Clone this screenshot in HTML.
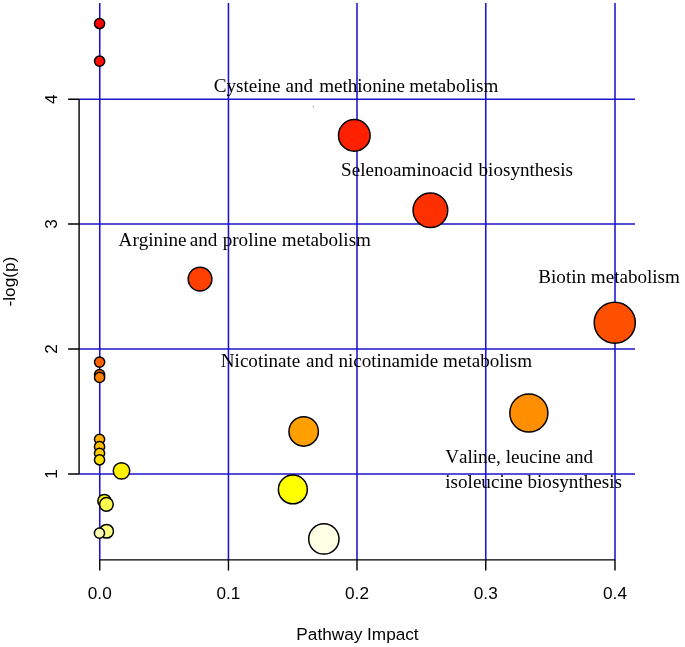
<!DOCTYPE html><html><head><meta charset="utf-8"><style>html,body{margin:0;padding:0;background:#fff;}svg{display:block;will-change:transform;}text{font-kerning:none;font-feature-settings:"kern" 0,"liga" 0;}</style></head><body>
<svg width="685" height="647" viewBox="0 0 685 647">
<rect width="685" height="647" fill="#fff"/>
<path d="M99.75 3V560 M228.45 3V560 M357.00 3V560 M485.75 3V560 M615.00 3V560 M79.1 99.20H635 M79.1 224.00H635 M79.1 349.00H635 M79.1 474.00H635" stroke="#1C14CC" stroke-width="1.55" fill="none"/>
<circle cx="99.55" cy="23.55" r="5.09" fill="#FF0000" stroke="#000" stroke-width="1.5"/>
<circle cx="99.6" cy="61.2" r="5.09" fill="#FF1000" stroke="#000" stroke-width="1.5"/>
<circle cx="354.3" cy="135.4" r="15.83" fill="#FF2000" stroke="#000" stroke-width="1.5"/>
<circle cx="430.4" cy="210.25" r="17.33" fill="#FF3000" stroke="#000" stroke-width="1.5"/>
<circle cx="200.05" cy="279.1" r="11.84" fill="#FF4000" stroke="#000" stroke-width="1.5"/>
<circle cx="614.75" cy="322.8" r="20.55" fill="#FF5000" stroke="#000" stroke-width="1.5"/>
<circle cx="99.6" cy="362.1" r="5.09" fill="#FF6000" stroke="#000" stroke-width="1.5"/>
<circle cx="99.6" cy="374.55" r="5.09" fill="#FF7000" stroke="#000" stroke-width="1.5"/>
<circle cx="99.6" cy="377.4" r="5.09" fill="#FF8000" stroke="#000" stroke-width="1.5"/>
<circle cx="528.86" cy="413.0" r="19.04" fill="#FF8F00" stroke="#000" stroke-width="1.5"/>
<circle cx="303.67" cy="431.43" r="14.71" fill="#FF9F00" stroke="#000" stroke-width="1.5"/>
<circle cx="99.55" cy="439.3" r="5.09" fill="#FFAF00" stroke="#000" stroke-width="1.5"/>
<circle cx="99.55" cy="446.65" r="5.09" fill="#FFBF00" stroke="#000" stroke-width="1.5"/>
<circle cx="99.55" cy="453.35" r="5.09" fill="#FFCF00" stroke="#000" stroke-width="1.5"/>
<circle cx="99.55" cy="459.8" r="5.09" fill="#FFDF00" stroke="#000" stroke-width="1.5"/>
<circle cx="121.5" cy="470.87" r="8.24" fill="#FFEF00" stroke="#000" stroke-width="1.5"/>
<circle cx="292.85" cy="489.38" r="14.45" fill="#FFFF00" stroke="#000" stroke-width="1.5"/>
<circle cx="104.4" cy="500.95" r="6.56" fill="#FFFF1A" stroke="#000" stroke-width="1.5"/>
<circle cx="106.41" cy="504.37" r="6.85" fill="#FFFF4D" stroke="#000" stroke-width="1.5"/>
<circle cx="106.6" cy="531.25" r="6.87" fill="#FFFF80" stroke="#000" stroke-width="1.5"/>
<circle cx="99.45" cy="533.16" r="5.09" fill="#FFFFB3" stroke="#000" stroke-width="1.5"/>
<circle cx="323.85" cy="538.94" r="15.17" fill="#FFFFE6" stroke="#000" stroke-width="1.5"/>
<g font-family="Liberation Serif, serif" font-size="19.1" fill="#000">
<text x="213.7" y="92.2" xml:space="preserve">Cysteine<tspan dx="0.3"> and</tspan><tspan dx="1.2"> methionine</tspan><tspan dx="-0.6"> metabolism</tspan></text>
<text x="341.09999999999997" y="176.2" xml:space="preserve">Selenoaminoacid<tspan dx="1.2"> biosynthesis</tspan></text>
<text x="118.6" y="245.9" xml:space="preserve">Arginine<tspan dx="-1.5"> and</tspan><tspan dx="0.6"> proline</tspan><tspan dx="0.3"> metabolism</tspan></text>
<text x="538.3" y="283.2" xml:space="preserve">Biotin metabolism</text>
<text x="220.8" y="366.8" xml:space="preserve">Nicotinate<tspan dx="1.0"> and</tspan> nicotinamide<tspan dx="0.15"> metabolism</tspan></text>
<text x="445.2" y="463.2" xml:space="preserve">Valine, leucine and</text>
<text x="445.3" y="488.3" xml:space="preserve">isoleucine biosynthesis</text>
</g>
<path d="M99.75 559.85H615.00 M99.75 559.85V570.6 M228.45 559.85V570.6 M357.00 559.85V570.6 M485.75 559.85V570.6 M615.00 559.85V570.6 M79.1 99.20V474.00 M68.1 99.20H79.1 M68.1 224.00H79.1 M68.1 349.00H79.1 M68.1 474.00H79.1" stroke="#000" stroke-width="1.4" fill="none" stroke-linecap="butt"/>
<g font-family="Liberation Sans, sans-serif" font-size="17.2" fill="#000" text-anchor="middle">
<text x="99.75" y="599.1">0.0</text>
<text x="228.45" y="599.1">0.1</text>
<text x="357.00" y="599.1">0.2</text>
<text x="485.75" y="599.1">0.3</text>
<text x="615.00" y="599.1">0.4</text>
<text transform="translate(56.8 99.20) rotate(-90)" x="0" y="0">4</text>
<text transform="translate(56.8 224.00) rotate(-90)" x="0" y="0">3</text>
<text transform="translate(56.8 349.00) rotate(-90)" x="0" y="0">2</text>
<text transform="translate(56.8 474.00) rotate(-90)" x="0" y="0">1</text>
<text x="357.5" y="640.2">Pathway Impact</text>
<rect x="312.9" y="106.1" width="1" height="1.5" fill="#999"/>
<text transform="translate(14.9 281.6) rotate(-90)" x="0" y="0">-log(p)</text>
</g>
</svg></body></html>
